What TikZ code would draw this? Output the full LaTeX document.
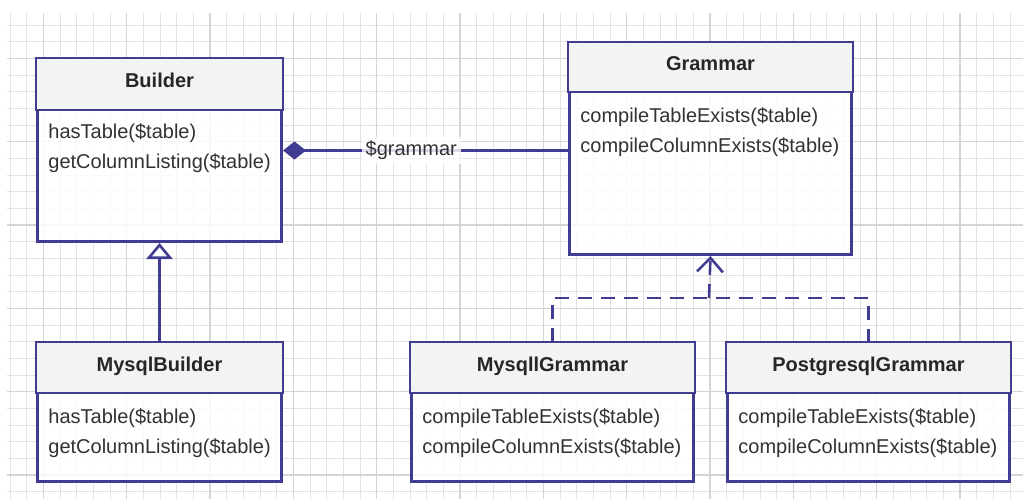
\documentclass[tikz,border=0pt]{standalone}
\usepackage{fontspec}
\setmainfont{Liberation Sans}
\usepackage{tikz}
\usetikzlibrary{arrows.meta, calc, positioning}
\definecolor{umlblue}{RGB}{64,60,145}
\definecolor{umltext}{RGB}{50,50,50}
\definecolor{headgray}{RGB}{243,243,243}
\definecolor{gridminor}{RGB}{226,226,226}
\definecolor{gridmajor}{RGB}{212,212,212}

\begin{document}
\begin{tikzpicture}[
            x=0.5pt, y=-0.5pt,
                classbox/.style = {rectangle, draw=umlblue, line width=1.5pt,
                            fill=white, fill opacity=0.85, anchor=north west,
                            inner sep=0pt},
                header/.style = {draw=umlblue, line width=1.4pt, fill=headgray},
                classname/.style = {anchor=base, inner sep=0pt, text=black!85,
                            font=\fontsize{10}{12}\selectfont\bfseries},
                methods/.style = {anchor=base west, inner sep=0pt, align=left,
                            text=umltext, font=\fontsize{10}{15}\selectfont},
                link/.style = {draw=umlblue, line width=1.3pt},
                realize/.style = {link, dash pattern=on 7pt off 4.5pt},
                gridline/.style = {draw=gridminor, line width=0.5pt},
                gridbold/.style = {draw=gridmajor, line width=0.6pt}]
            % background grid
            \useasboundingbox (0,0) rectangle (1023,499);
            \foreach \gx in {10,26.6667,...,1023} \draw[gridline] (\gx,13) -- (\gx,499);
            \foreach \gy in {25,41.6667,...,499} \draw[gridline] (7,\gy) -- (1023,\gy);
            \foreach \gx in {43.3333,126.6667,...,1023} \draw[gridbold] (\gx,13) -- (\gx,499);
            \foreach \gy in {58.3333,141.6667,...,499} \draw[gridbold] (7,\gy) -- (1023,\gy);

            % classes (method nodes sit on the baseline of their last line)
            \node (Builder) [classbox, minimum width=122pt, minimum height=91pt] at (36,58) {};
            \draw[header] (Builder.north west) rectangle ($(Builder.north east)+(0,-26pt)$);
            \node (BuilderTitle) [classname] at ($(Builder.north)+(0,-14.5pt)$) {Builder};
            \node (BuilderMethods) [methods] at ($(Builder.north west)+(6pt,-55pt)$) {
                hasTable(\$table)\\getColumnListing(\$table)
            };

            \node (Grammar) [classbox, minimum width=141pt, minimum height=105.5pt] at (568,42) {};
            \draw[header] (Grammar.north west) rectangle ($(Grammar.north east)+(0,-25pt)$);
            \node (GrammarTitle) [classname] at ($(Grammar.north)+(0,-14pt)$) {Grammar};
            \node (GrammarMethods) [methods] at ($(Grammar.north west)+(6pt,-55pt)$) {
                compileTableExists(\$table)\\compileColumnExists(\$table)
            };

            \node (MysqlBuilder) [classbox, minimum width=122pt, minimum height=69pt] at (36,342) {};
            \draw[header] (MysqlBuilder.north west) rectangle ($(MysqlBuilder.north east)+(0,-25.5pt)$);
            \node (MysqlBuilderTitle) [classname] at ($(MysqlBuilder.north)+(0,-14.5pt)$) {MysqlBuilder};
            \node (MysqlBuilderMethods) [methods] at ($(MysqlBuilder.north west)+(6pt,-55.5pt)$) {
                hasTable(\$table)\\getColumnListing(\$table)
            };

            \node (MysqlGrammar) [classbox, minimum width=141pt, minimum height=69pt] at (410,342) {};
            \draw[header] (MysqlGrammar.north west) rectangle ($(MysqlGrammar.north east)+(0,-25.5pt)$);
            \node (MysqlGrammarTitle) [classname] at ($(MysqlGrammar.north)+(0,-14.5pt)$) {MysqllGrammar};
            \node (MysqlGrammarMethods) [methods] at ($(MysqlGrammar.north west)+(6pt,-55.5pt)$) {
                compileTableExists(\$table)\\compileColumnExists(\$table)
            };

            \node (PostgresGrammar) [classbox, minimum width=141pt, minimum height=69pt] at (726,342) {};
            \draw[header] (PostgresGrammar.north west) rectangle ($(PostgresGrammar.north east)+(0,-25.5pt)$);
            \node (PostgresGrammarTitle) [classname] at ($(PostgresGrammar.north)+(0,-14.5pt)$) {PostgresqlGrammar};
            \node (PostgresGrammarMethods) [methods] at ($(PostgresGrammar.north west)+(6pt,-55.5pt)$) {
                compileTableExists(\$table)\\compileColumnExists(\$table)
            };

            % relations
            \draw[link, {Diamond[length=11.5pt, width=9pt, fill=umlblue]}-] (Builder.east) -- (Builder.east -| Grammar.west)
                node[pos=0.45, fill=white, fill opacity=0.8, text opacity=1, text=umltext,
                     inner sep=2pt, font=\fontsize{10}{12}\selectfont] (GrammarLabel) {\$grammar};
            \draw[link, -{Triangle[open, length=8pt, width=13pt, fill=white]}] (MysqlBuilder.north) -- (Builder.south);
            \coordinate (Joint) at (709,298);
            \draw[realize] (MysqlGrammar.north) |- (Joint) -| (PostgresGrammar.north);
            \draw[realize, -{Straight Barb[length=7pt, width=13pt]}] (Joint) -- (Grammar.south);
\end{tikzpicture}
\end{document}
